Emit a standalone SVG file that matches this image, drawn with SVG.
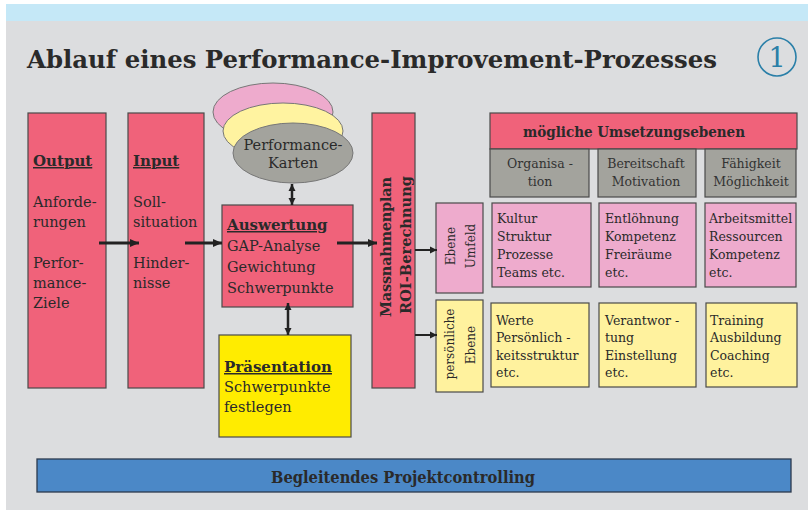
<svg xmlns="http://www.w3.org/2000/svg" width="808" height="510" viewBox="0 0 808 510">
  <style>
    text { font-family: "DejaVu Serif", "Liberation Serif", serif; fill: #2a2a2a; }
    .box { fill: #f0627a; stroke: #4a4a4a; stroke-width: 1.2; }
    .gray { fill: #a3a39d; stroke: #4a4a4a; stroke-width: 1.2; }
    .pink { fill: #eeabcd; stroke: #4a4a4a; stroke-width: 1.2; }
    .pale { fill: #fff29e; stroke: #4a4a4a; stroke-width: 1.2; }
    .t { font-size: 14.5px; }
    .h { font-size: 15px; font-weight: bold; text-decoration: underline; }
    .g { font-size: 12.5px; }
    .gc { font-size: 12.5px; text-anchor: middle; fill: #333; }
    .rot { font-size: 14.5px; font-weight: bold; text-anchor: middle; }
    .rs { font-size: 12px; text-anchor: middle; }
    .arrow { stroke: #222; stroke-width: 3; fill: none; marker-end: url(#head); }
    .thin { stroke: #222; stroke-width: 2; fill: none; marker-end: url(#headS); }
    .dbl { stroke: #222; stroke-width: 2.5; fill: none; marker-start: url(#headS); marker-end: url(#headS); }
  </style>
  <defs>
    <marker id="head" markerUnits="userSpaceOnUse" markerWidth="10" markerHeight="10" refX="9" refY="5" orient="auto-start-reverse">
      <path d="M0,1 L9,5 L0,9 Z" fill="#222"/>
    </marker>
    <marker id="headS" markerUnits="userSpaceOnUse" markerWidth="8" markerHeight="8" refX="7" refY="4" orient="auto-start-reverse">
      <path d="M0,0.5 L7,4 L0,7.5 Z" fill="#222"/>
    </marker>
  </defs>

  <!-- page background -->
  <rect x="0" y="0" width="808" height="510" fill="#ffffff"/>
  <rect x="6" y="4" width="802" height="17" fill="#c5e8f7"/>
  <rect x="6" y="21" width="802" height="489" fill="#dcdddf"/>

  <!-- heading -->
  <g id="title">
    <text x="27" y="68" font-size="25" font-weight="bold" textLength="690" lengthAdjust="spacingAndGlyphs">Ablauf eines Performance-Improvement-Prozesses</text>
    <circle cx="777" cy="57" r="19" fill="none" stroke="#2a7fa8" stroke-width="1.6"/>
    <text x="777" y="67" font-size="27" text-anchor="middle" style="fill:#2a7fa8">1</text>
  </g>

  <!-- process column: output -->
  <g id="output">
    <rect class="box" x="28" y="113" width="78" height="275"/>
    <text class="h" x="33" y="166">Output</text>
    <text class="t" x="33" y="207">Anforde-</text>
    <text class="t" x="33" y="227">rungen</text>
    <text class="t" x="33" y="268">Perfor-</text>
    <text class="t" x="33" y="288">mance-</text>
    <text class="t" x="33" y="308">Ziele</text>
  </g>

  <!-- process column: input -->
  <g id="input">
    <rect class="box" x="128" y="113" width="76" height="275"/>
    <text class="h" x="133" y="166">Input</text>
    <text class="t" x="133" y="207">Soll-</text>
    <text class="t" x="133" y="227">situation</text>
    <text class="t" x="133" y="268">Hinder-</text>
    <text class="t" x="133" y="288">nisse</text>
  </g>

  <!-- stacked performance cards -->
  <g id="karten">
    <ellipse cx="273" cy="112" rx="60" ry="29" fill="#eeabcd" stroke="#777" stroke-width="1"/>
    <ellipse cx="283" cy="131" rx="60" ry="28" fill="#fff3a0" stroke="#777" stroke-width="1"/>
    <ellipse cx="293" cy="153" rx="60" ry="30" fill="#a3a39d" stroke="#777" stroke-width="1"/>
    <text class="t" x="293" y="150" text-anchor="middle">Performance-</text>
    <text class="t" x="293" y="168" text-anchor="middle">Karten</text>
  </g>

  <!-- evaluation -->
  <g id="auswertung">
    <rect class="box" x="222" y="205" width="131" height="102"/>
    <text class="h" x="227" y="230">Auswertung </text>
    <text class="t" x="227" y="251">GAP-Analyse</text>
    <text class="t" x="227" y="272">Gewichtung</text>
    <text class="t" x="227" y="293">Schwerpunkte</text>
  </g>

  <!-- presentation -->
  <g id="praesentation">
    <rect x="219" y="335" width="132" height="102" fill="#ffec00" stroke="#4a4a4a" stroke-width="1.2"/>
    <text class="h" x="224" y="372">Präsentation</text>
    <text class="t" x="224" y="392">Schwerpunkte</text>
    <text class="t" x="224" y="412">festlegen</text>
  </g>

  <!-- action plan -->
  <g id="massnahmenplan">
    <rect class="box" x="372" y="113" width="43" height="275"/>
    <text class="rot" transform="translate(391,247) rotate(-90)" textLength="140" lengthAdjust="spacing">Massnahmenplan</text>
    <text class="rot" transform="translate(411,245) rotate(-90)" textLength="138" lengthAdjust="spacing">ROI-Berechnung</text>
  </g>

  <!-- levels -->
  <g id="ebene-umfeld">
    <rect class="pink" x="436" y="203" width="47" height="90"/>
    <text class="rs" transform="translate(455,246) rotate(-90)">Ebene</text>
    <text class="rs" transform="translate(475,246) rotate(-90)">Umfeld</text>
  </g>
  <g id="persoenliche-ebene">
    <rect class="pale" x="436" y="300" width="47" height="92"/>
    <text class="rs" transform="translate(454,344) rotate(-90)">persönliche</text>
    <text class="rs" transform="translate(475,345) rotate(-90)">Ebene</text>
  </g>

  <!-- implementation levels -->
  <g id="umsetzungsebenen">
    <rect class="box" x="490" y="113" width="307" height="36"/>
    <text x="634" y="137" font-size="14" font-weight="bold" text-anchor="middle" textLength="222" lengthAdjust="spacingAndGlyphs">mögliche Umsetzungsebenen</text>
  </g>
  <g id="organisation">
    <rect class="gray" x="490" y="149" width="99" height="48"/>
    <text class="gc" x="540" y="168">Organisa -</text>
    <text class="gc" x="540" y="186">tion</text>
  </g>
  <g id="bereitschaft">
    <rect class="gray" x="598" y="149" width="98" height="48"/>
    <text class="gc" x="646" y="168">Bereitschaft</text>
    <text class="gc" x="646" y="186">Motivation</text>
  </g>
  <g id="faehigkeit">
    <rect class="gray" x="705" y="149" width="91" height="48"/>
    <text class="gc" x="751" y="168">Fähigkeit</text>
    <text class="gc" x="751" y="186">Möglichkeit</text>
  </g>

  <!-- environment row -->
  <g id="umfeld-organisation">
    <rect class="pink" x="492" y="203" width="99" height="84"/>
    <text class="g" x="497" y="223">Kultur</text>
    <text class="g" x="497" y="241">Struktur</text>
    <text class="g" x="497" y="259">Prozesse</text>
    <text class="g" x="497" y="277">Teams etc.</text>
  </g>
  <g id="umfeld-bereitschaft">
    <rect class="pink" x="599" y="203" width="97" height="84"/>
    <text class="g" x="605" y="223">Entlöhnung</text>
    <text class="g" x="605" y="241">Kompetenz</text>
    <text class="g" x="605" y="259">Freiräume</text>
    <text class="g" x="605" y="277">etc.</text>
  </g>
  <g id="umfeld-faehigkeit">
    <rect class="pink" x="705" y="203" width="91" height="84"/>
    <text class="g" x="709" y="223">Arbeitsmittel</text>
    <text class="g" x="709" y="241">Ressourcen</text>
    <text class="g" x="709" y="259">Kompetenz</text>
    <text class="g" x="709" y="277">etc.</text>
  </g>

  <!-- personal row -->
  <g id="person-organisation">
    <rect class="pale" x="491" y="303" width="98" height="84"/>
    <text class="g" x="496" y="325">Werte</text>
    <text class="g" x="496" y="342">Persönlich -</text>
    <text class="g" x="496" y="360">keitsstruktur</text>
    <text class="g" x="496" y="377">etc.</text>
  </g>
  <g id="person-bereitschaft">
    <rect class="pale" x="599" y="303" width="97" height="84"/>
    <text class="g" x="605" y="325">Verantwor -</text>
    <text class="g" x="605" y="342">tung</text>
    <text class="g" x="605" y="360">Einstellung</text>
    <text class="g" x="605" y="377">etc.</text>
  </g>
  <g id="person-faehigkeit">
    <rect class="pale" x="706" y="303" width="91" height="84"/>
    <text class="g" x="710" y="325">Training</text>
    <text class="g" x="710" y="342">Ausbildung</text>
    <text class="g" x="710" y="360">Coaching</text>
    <text class="g" x="710" y="377">etc.</text>
  </g>

  <!-- project controlling bar -->
  <g id="controlling">
    <rect x="37" y="459" width="754" height="33" fill="#4b88c7" stroke="#2c3a4e" stroke-width="1.3"/>
    <text x="403" y="483" font-size="17" font-weight="bold" text-anchor="middle" textLength="264" lengthAdjust="spacingAndGlyphs">Begleitendes Projektcontrolling</text>
  </g>

  <!-- connectors -->
  <g id="connectors">
    <path class="arrow" d="M99,243 H139"/>
    <path class="arrow" d="M185,243 H222"/>
    <path class="arrow" d="M337,243 H377"/>
    <path class="dbl" d="M292,184 V205"/>
    <path class="dbl" d="M288,303 V335"/>
    <path class="thin" d="M415,250 H437"/>
    <path class="thin" d="M415,335 H437"/>
  </g>
</svg>
